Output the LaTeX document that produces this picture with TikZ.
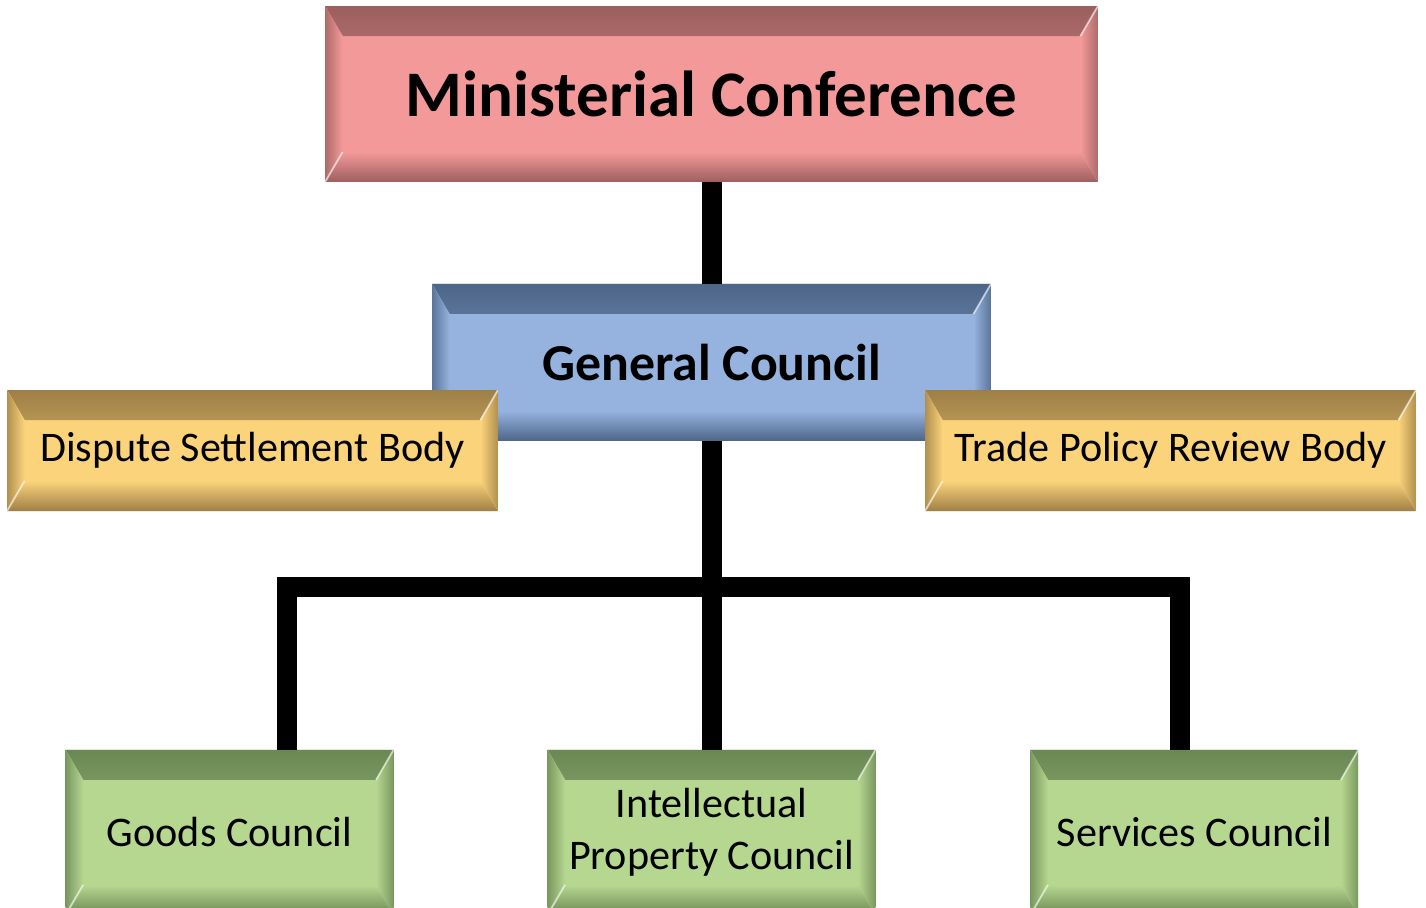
\documentclass[tikz,border=0pt]{standalone}
\usepackage{fontspec}
\setmainfont{Carlito}
\usetikzlibrary{positioning}

\definecolor{mcfill}{HTML}{F4999A}
\definecolor{mcdark}{HTML}{9C5F5E}
\definecolor{gcfill}{HTML}{96B3DF}
\definecolor{gcdark}{HTML}{4C6588}
\definecolor{bodyfill}{HTML}{FBD37A}
\definecolor{bodydark}{HTML}{9E7F46}
\definecolor{cfill}{HTML}{B6D790}
\definecolor{cdark}{HTML}{6A8853}

\begin{document}
\begin{tikzpicture}[
    x=0.02cm,y=-0.02cm,
    node distance=2cm,
    bevel/.style 2 args={rectangle,fill=#1,inner sep=0pt,outer sep=0pt,align=center,
      path picture={
        \fill[top color=#2,bottom color=#1] (path picture bounding box.north west) -- (path picture bounding box.north east)
          -- ([shift={(-0.35cm,-0.6cm)}]path picture bounding box.north east) -- ([shift={(0.35cm,-0.6cm)}]path picture bounding box.north west) -- cycle;
        \fill[top color=#1,bottom color=#2] (path picture bounding box.south west) -- (path picture bounding box.south east)
          -- ([shift={(-0.35cm,0.6cm)}]path picture bounding box.south east) -- ([shift={(0.35cm,0.6cm)}]path picture bounding box.south west) -- cycle;
        \fill[left color=#2!80!#1,right color=#1] (path picture bounding box.north west) -- ([shift={(0.35cm,-0.6cm)}]path picture bounding box.north west)
          -- ([shift={(0.35cm,0.6cm)}]path picture bounding box.south west) -- (path picture bounding box.south west) -- cycle;
        \fill[left color=#1,right color=#2!80!#1] (path picture bounding box.north east) -- ([shift={(-0.35cm,-0.6cm)}]path picture bounding box.north east)
          -- ([shift={(-0.35cm,0.6cm)}]path picture bounding box.south east) -- (path picture bounding box.south east) -- cycle;
        \draw[white,opacity=.6,line width=1pt] (path picture bounding box.north east) -- ([shift={(-0.35cm,-0.6cm)}]path picture bounding box.north east);
        \draw[white,opacity=.6,line width=1pt] (path picture bounding box.south west) -- ([shift={(0.35cm,0.6cm)}]path picture bounding box.south west);
      }},
    topbox/.style={bevel={mcfill}{mcdark},minimum width=15.46cm,minimum height=3.52cm,font=\bfseries\fontsize{37}{44}\selectfont},
    midbox/.style={bevel={gcfill}{gcdark},minimum width=11.18cm,minimum height=3.14cm,font=\bfseries\fontsize{29.5}{35}\selectfont},
    sidebox/.style={bevel={bodyfill}{bodydark},minimum width=9.82cm,minimum height=2.42cm,font=\fontsize{24}{29.6}\selectfont},
    councilbox/.style={bevel={cfill}{cdark},minimum width=6.56cm,minimum height=3.3cm,font=\fontsize{24}{29.6}\selectfont},
    link/.style={line width=0.4cm,black}
]
    \clip (0,0) rectangle (1426,907);
    \useasboundingbox (0,0) rectangle (1426,907);

    \node[topbox] (mc) at (711.5,94) {Ministerial Conference};
    \node[midbox,below=2.04cm of mc] (gc) {General Council};
    \node[sidebox] (dsb) at (252.5,450.5) {Dispute Settlement Body};
    \node[sidebox] (tprb) at (1170.5,450.5) {Trade Policy Review Body};

    \node[councilbox,below=6.18cm of gc] (ip) {Intellectual\\Property Council};
    \node[councilbox,left=3.08cm of ip] (goods) {Goods Council};
    \node[councilbox,right=3.1cm of ip] (services) {Services Council};

    \coordinate (bar) at (711.5,587);

    \draw[link] (mc) -- (gc);
    \draw[link] (gc) -- (ip);
    \draw[link] ([xshift=1.14cm]goods.north) |- (bar) -| ([xshift=-0.28cm]services.north);
\end{tikzpicture}
\end{document}
